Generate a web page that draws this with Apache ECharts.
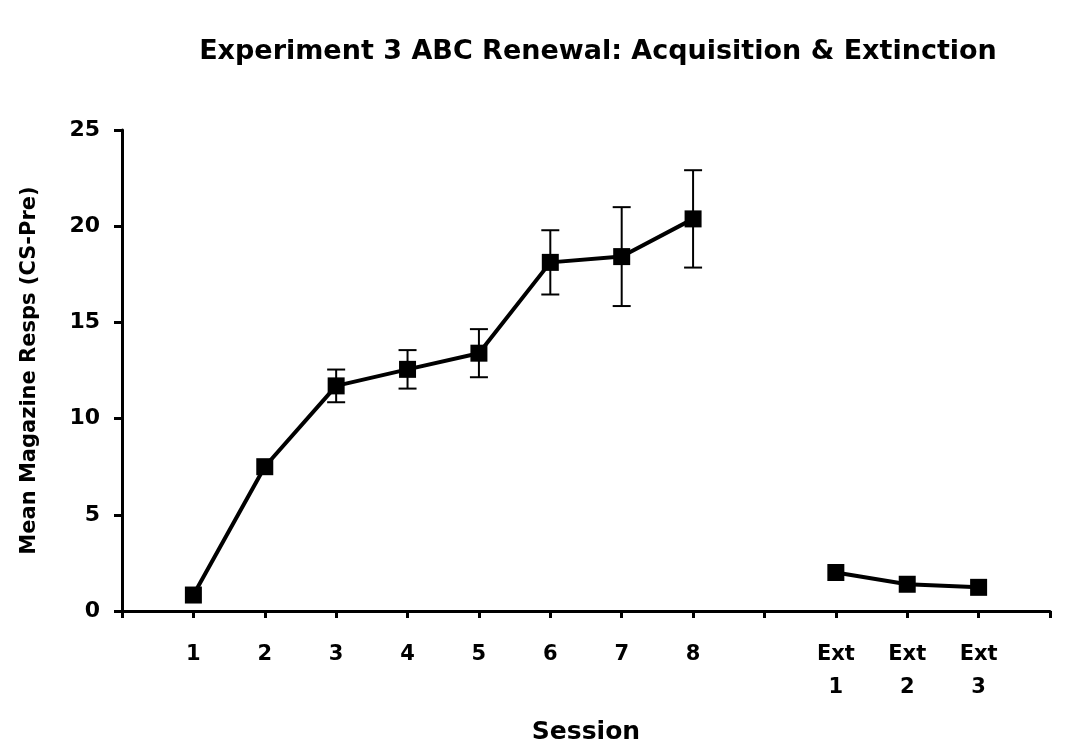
<!DOCTYPE html>
<html>
<head>
<meta charset="utf-8">
<script src="https://cdn.jsdelivr.net/npm/echarts@6/dist/echarts.min.js"></script>
<style>
  html, body { margin: 0; padding: 0; background: #fff; }
  #main { width: 1081px; height: 756px; }
</style>
</head>
<body>
<div id="main"></div>
<script>
// 横轴：前后空位 + 第8次与消退之间留一个空位
const sessions = ['', '1', '2', '3', '4', '5', '6', '7', '8', '', 'Ext\n1', 'Ext\n2', 'Ext\n3', ''];
// 平均值
const meanResps = [null, 0.83, 7.5, 11.7, 12.56, 13.4, 18.12, 18.42, 20.38, null, 2.0, 1.39, 1.23, null];
// 标准误（被方块遮住的就不画）
const semResps = [null, null, null, 0.85, 1.0, 1.25, 1.67, 2.57, 2.53, null, null, null, null, null];
const yTicks = [0, 5, 10, 15, 20, 25];

const font = 'DejaVu Sans';

// 误差线数据 [x, low, high]
const errData = [];
for (let i = 0; i < sessions.length; i++) {
    if (meanResps[i] == null || semResps[i] == null) continue;
    errData.push([i, meanResps[i] - semResps[i], meanResps[i] + semResps[i]]);
}

const myChart = echarts.init(document.getElementById('main'));

const option = {
    animation: false,
    backgroundColor: '#fff',
    title: {
        text: 'Experiment 3 ABC Renewal: Acquisition & Extinction',
        left: 593,
        top: 33,
        textAlign: 'center',
        textStyle: { fontFamily: font, fontWeight: 'bold', fontSize: 27, color: '#000' }
    },
    grid: { left: 122, right: 31, top: 130, bottom: 145, containLabel: false },
    xAxis: {
        type: 'category',
        data: sessions,
        boundaryGap: false,
        name: 'Session',
        nameLocation: 'middle',
        nameGap: 109,
        nameTextStyle: { fontFamily: font, fontWeight: 'bold', fontSize: 25, color: '#000' },
        axisLine: { lineStyle: { color: '#000', width: 3 } },
        axisTick: { interval: 0, length: 7, lineStyle: { color: '#000', width: 3 } },
        axisLabel: {
            interval: 0, margin: 27, color: '#000', fontFamily: font, fontWeight: 'bold',
            fontSize: 21, lineHeight: 33
        },
        splitLine: { show: false }
    },
    yAxis: {
        type: 'value',
        min: 0,
        max: 25,
        interval: 5,
        name: 'Mean Magazine Resps (CS-Pre)',
        nameLocation: 'middle',
        nameGap: 82,
        nameTextStyle: { fontFamily: font, fontWeight: 'bold', fontSize: 21, color: '#000' },
        axisLine: { show: true, lineStyle: { color: '#000', width: 3 } },
        axisTick: { show: true, length: 8, lineStyle: { color: '#000', width: 3 } },
        axisLabel: {
            margin: 22, color: '#000', fontFamily: font, fontWeight: 'bold', fontSize: 22,
            formatter: function (v) { return yTicks.indexOf(v) >= 0 ? String(v) : ''; }
        },
        splitLine: { show: false }
    },
    series: [
        {
            type: 'custom',
            name: 'sem',
            data: errData,
            z: 1,
            renderItem: function (params, api) {
                const x = api.value(0);
                const lo = api.coord([x, api.value(1)]);
                const hi = api.coord([x, api.value(2)]);
                const hw = 9;
                const style = { stroke: '#000', lineWidth: 2 };
                return {
                    type: 'group',
                    children: [
                        { type: 'line', shape: { x1: lo[0], y1: lo[1], x2: hi[0], y2: hi[1] }, style: style },
                        { type: 'line', shape: { x1: hi[0] - hw, y1: hi[1], x2: hi[0] + hw, y2: hi[1] }, style: style },
                        { type: 'line', shape: { x1: lo[0] - hw, y1: lo[1], x2: lo[0] + hw, y2: lo[1] }, style: style }
                    ]
                };
            }
        },
        {
            type: 'line',
            name: 'mean',
            data: meanResps,
            connectNulls: false,
            symbol: 'rect',
            symbolSize: 17,
            z: 3,
            itemStyle: { color: '#000' },
            lineStyle: { color: '#000', width: 4 }
        }
    ]
};

myChart.setOption(option);
</script>
</body>
</html>
